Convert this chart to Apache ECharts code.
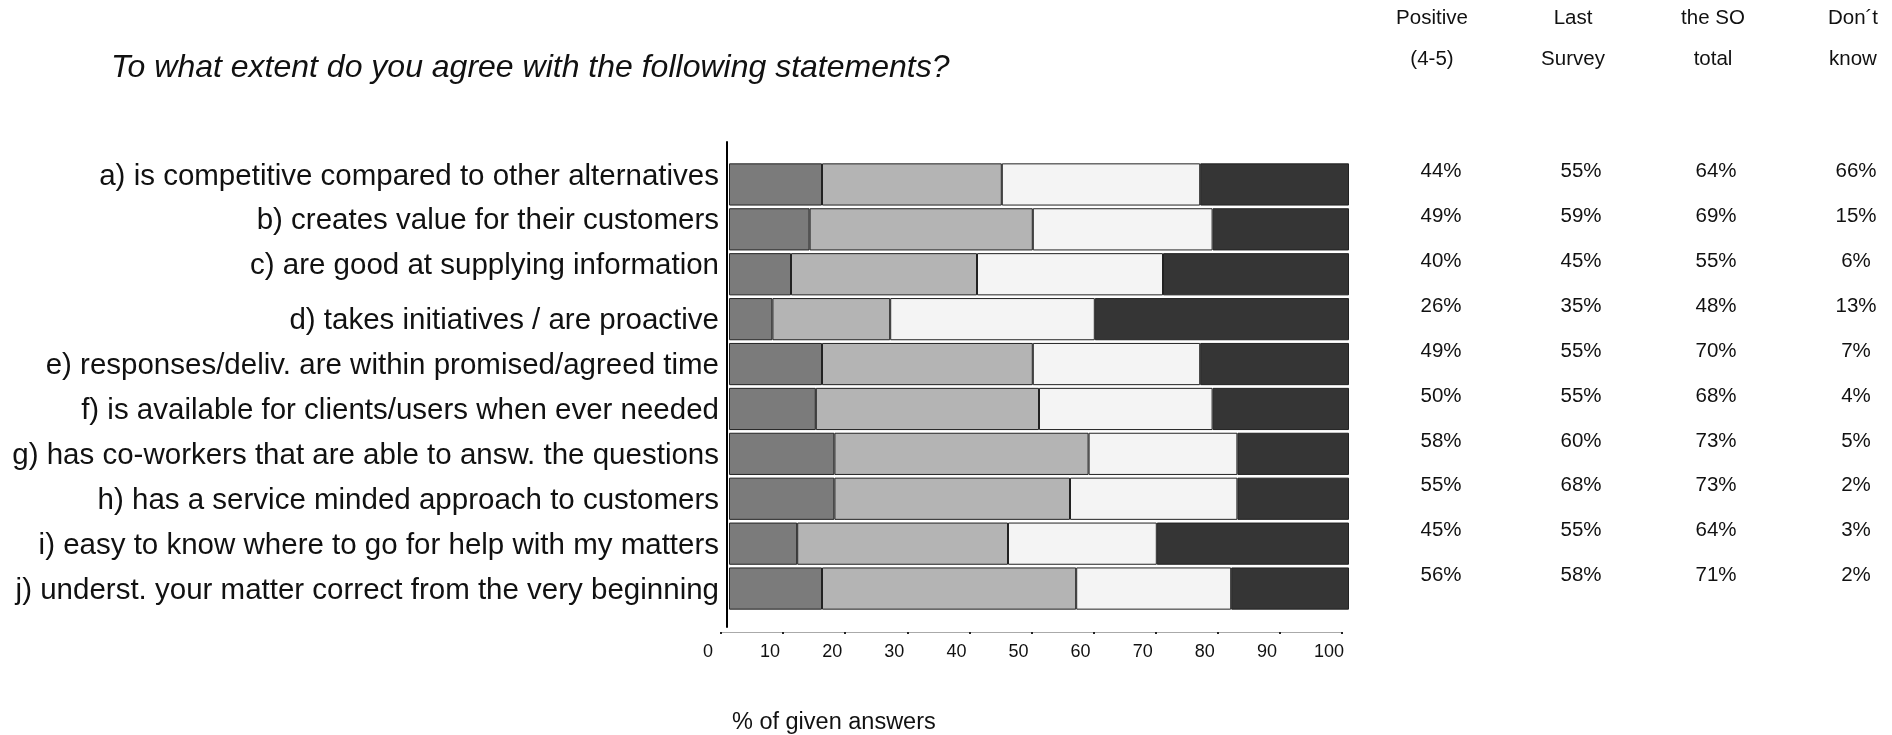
<!DOCTYPE html>
<html>
<head>
<meta charset="utf-8">
<title>Statements</title>
<script src="https://cdn.jsdelivr.net/npm/echarts@6/dist/echarts.min.js"></script>
<style>
  html, body { margin: 0; padding: 0; background: #fff; }
  #main { width: 1892px; height: 735px; }
</style>
</head>
<body>
<div id="main"></div>
<script>
// statements, top to bottom
const categories = [
  'a) is competitive compared to other alternatives',
  'b) creates value for their customers',
  'c) are good at supplying information',
  'd) takes initiatives / are proactive',
  'e) responses/deliv. are within promised/agreed time',
  'f) is available for clients/users when ever needed',
  'g) has co-workers that are able to answ. the questions',
  'h) has a service minded approach to customers',
  'i) easy to know where to go for help with my matters',
  'j) underst. your matter correct from the very beginning'
];

// stacked shares (% of given answers), left to right
const seg1 = [15, 13, 10, 7, 15, 14, 17, 17, 11, 15];
const seg2 = [29, 36, 30, 19, 34, 36, 41, 38, 34, 41];
const seg3 = [32, 29, 30, 33, 27, 28, 24, 27, 24, 25];
const seg4 = [24, 22, 30, 41, 24, 22, 18, 18, 31, 19];

// table on the right
const positive = ['44%', '49%', '40%', '26%', '49%', '50%', '58%', '55%', '45%', '56%'];
const lastSurvey = ['55%', '59%', '45%', '35%', '55%', '55%', '60%', '68%', '55%', '58%'];
const soTotal = ['64%', '69%', '55%', '48%', '70%', '68%', '73%', '73%', '64%', '71%'];
const dontKnow = ['66%', '15%', '6%', '13%', '7%', '4%', '5%', '2%', '3%', '2%'];

const xTicks = [0, 100, 10]; // min, max, interval

const FONT = '"Liberation Sans", Arial, sans-serif';
const myChart = echarts.init(document.getElementById('main'));

// in the original the first three statement labels sit a bit higher
const catAxisData = categories.map(function (c, i) {
  return i < 3
    ? { value: c, textStyle: { verticalAlign: 'bottom', lineHeight: 16 } }
    : c;
});

// one column of the table, hung on an extra category axis
function tableAxis(values, header, offset, shift) {
  return {
    type: 'category',
    gridIndex: 0,
    inverse: true,
    position: 'right',
    offset: offset,
    data: categories,
    axisLine: { show: false },
    axisTick: { show: false },
    axisLabel: {
      margin: 0,
      align: 'center',
      verticalAlign: 'bottom',
      lineHeight: 26,
      fontSize: 20.5,
      fontFamily: FONT,
      color: '#111',
      formatter: function (v, i) { return values[i]; }
    },
    name: header,
    nameLocation: 'start',   // axis is inverted, so start = top
    nameGap: 82,
    nameTextStyle: {
      fontSize: 20.5,
      fontFamily: FONT,
      color: '#111',
      lineHeight: 41,
      align: 'center',
      padding: [0, shift * 2, 0, 0]
    }
  };
}

function seg(data, color) {
  return {
    type: 'bar',
    stack: 'all',
    data: data,
    barCategoryGap: '6%',
    itemStyle: { color: color, borderColor: '#222', borderWidth: 1 },
    silent: true
  };
}

const option = {
  backgroundColor: '#fff',
  animation: false,
  title: [
    {
      text: 'To what extent do you agree with the following statements?',
      left: 111,
      top: 52,
      padding: 0,
      textStyle: { fontSize: 32, fontStyle: 'italic', fontWeight: 'normal', fontFamily: FONT, color: '#111' }
    },
    {
      text: '% of given answers',
      left: 732,
      top: 711,
      padding: 0,
      textStyle: { fontSize: 23.5, fontWeight: 'normal', fontFamily: FONT, color: '#111' }
    }
  ],
  grid: [
    // bars
    { left: 729, width: 620, top: 162, bottom: 124, outerBoundsMode: 'none' },
    // the long vertical axis line
    { left: 727, width: 1, top: 142, bottom: 108, outerBoundsMode: 'none' },
    // tick axis below
    { left: 721, width: 621, top: 600, bottom: 103, outerBoundsMode: 'none' }
  ],
  xAxis: [
    { type: 'value', gridIndex: 0, min: xTicks[0], max: xTicks[1], show: false },
    { type: 'value', gridIndex: 1, show: false },
    {
      type: 'value',
      gridIndex: 2,
      min: xTicks[0],
      max: xTicks[1],
      interval: xTicks[2],
      axisLine: { show: true, lineStyle: { color: '#aaa', width: 1 } },
      axisTick: { show: true, length: 2, lineStyle: { color: '#222', width: 2 } },
      splitLine: { show: false },
      axisLabel: {
        fontSize: 18,
        fontFamily: FONT,
        color: '#111',
        margin: 11,
        padding: [0, 26, 0, 0]
      }
    }
  ],
  yAxis: [
    {
      type: 'category',
      gridIndex: 0,
      inverse: true,
      data: catAxisData,
      axisLine: { show: false },
      axisTick: { show: false },
      axisLabel: {
        fontSize: 29.5,
        fontFamily: FONT,
        color: '#111',
        margin: 10,
        verticalAlign: 'top',
        lineHeight: 4
      }
    },
    tableAxis(positive, 'Positive\n(4-5)', 92, 9),
    tableAxis(lastSurvey, 'Last\nSurvey', 232, 8),
    tableAxis(soTotal, 'the SO\ntotal', 367, 3),
    tableAxis(dontKnow, 'Don\u00b4t\nknow', 507, 3),
    {
      type: 'value',
      gridIndex: 1,
      axisLine: { show: true, onZero: false, lineStyle: { color: '#000', width: 2 } },
      axisTick: { show: false },
      axisLabel: { show: false },
      splitLine: { show: false }
    },
    { type: 'value', gridIndex: 2, show: false }
  ],
  series: [
    seg(seg1, '#7b7b7b'),
    seg(seg2, '#b4b4b4'),
    seg(seg3, '#f4f4f4'),
    seg(seg4, '#353535')
  ]
};

myChart.setOption(option);
</script>
</body>
</html>
